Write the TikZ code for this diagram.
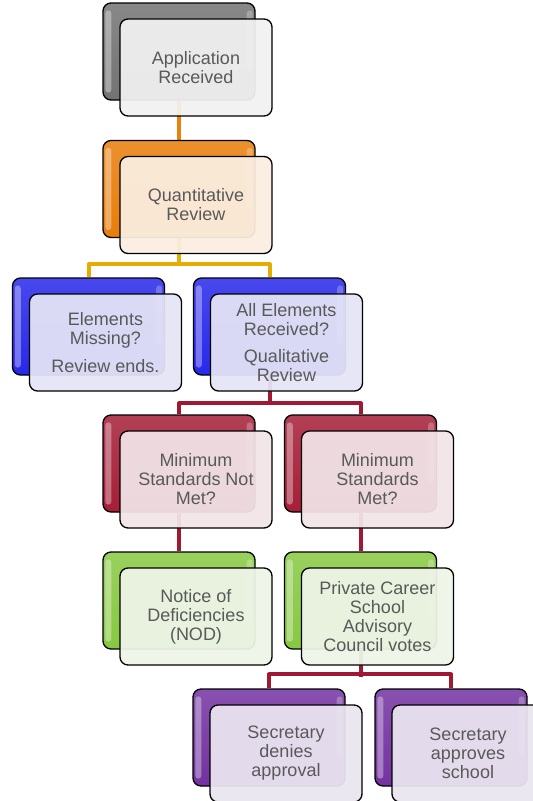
\documentclass[tikz,border=0pt]{standalone}
\usepackage{fontspec}
\setmainfont{Liberation Sans}
\pgfdeclarelayer{bg}
\pgfsetlayers{bg,main}
\definecolor{txt}{RGB}{89,89,89}
\definecolor{grayB}{RGB}{115,115,115}\definecolor{grayF}{RGB}{241,241,241}
\definecolor{oranB}{RGB}{232,125,10}\definecolor{oranF}{RGB}{250,238,224}
\definecolor{blueB}{RGB}{40,40,235}\definecolor{blueF}{RGB}{228,228,246}
\definecolor{crimB}{RGB}{165,30,55}\definecolor{crimF}{RGB}{241,228,231}
\definecolor{grenB}{RGB}{135,200,65}\definecolor{grenF}{RGB}{238,245,232}
\definecolor{purpB}{RGB}{115,50,160}\definecolor{purpF}{RGB}{234,229,240}
\definecolor{connO}{RGB}{232,130,10}
\definecolor{connG}{RGB}{230,172,0}
\definecolor{connC}{RGB}{160,25,50}
\tikzset{
  backbox/.style={draw=black, line width=1.3pt, rounded corners=8pt,
    minimum width=152pt, minimum height=97pt, inner sep=0pt},
  frontbox/.style={draw=black, line width=1.3pt, rounded corners=8pt,
    minimum width=152pt, minimum height=97pt, inner sep=0pt,
    fill=#1, fill opacity=0.94, text opacity=1, text=txt, align=center,
    font=\fontsize{18}{19}\selectfont},
  conn/.style={line width=4pt, draw=#1, line join=round},
}
\newcommand\stage[6]{%
  \node[backbox, top color=#4!85!white, bottom color=#4] (b#1) at (#2,#3) {};
  \fill[white, opacity=.35, rounded corners=3pt] ([xshift=3pt,yshift=-8pt]b#1.north west) rectangle ([xshift=9pt,yshift=8pt]b#1.south west);
  \fill[white, opacity=.25, rounded corners=3pt] ([xshift=-9pt,yshift=-8pt]b#1.north east) rectangle ([xshift=-3pt,yshift=30pt]b#1.south east);
  \node[frontbox=#5] (f#1) at ([xshift=17pt,yshift=-16pt]b#1.center) {#6};
}
\begin{document}
\begin{tikzpicture}[x=1pt,y=-1pt]
\useasboundingbox (0,0) rectangle (533,801);
\clip (0,0) rectangle (533,801);
\stage{1}{179}{51.5}{grayB}{grayF}{Application\\Received}
\stage{2}{179}{189}{oranB}{oranF}{Quantitative\\Review}
\stage{3a}{88.5}{326.5}{blueB}{blueF}{Elements\\Missing?\\[9pt]Review ends.}
\stage{3b}{269.5}{326.5}{blueB}{blueF}{All Elements\\Received?\\[8pt]Qualitative\\Review}
\stage{4a}{179}{463.5}{crimB}{crimF}{Minimum\\Standards Not\\Met?}
\stage{4b}{360.5}{463.5}{crimB}{crimF}{Minimum\\Standards\\Met?}
\stage{5a}{179}{600.5}{grenB}{grenF}{Notice of\\Deficiencies\\(NOD)}
\stage{5b}{360.5}{600.5}{grenB}{grenF}{Private Career\\School\\Advisory\\Council votes}
\stage{6a}{269}{737.5}{purpB}{purpF}{Secretary\\denies\\approval}
\stage{6b}{451}{737.5}{purpB}{purpF}{Secretary\\approves\\school}
\begin{pgfonlayer}{bg}
\draw[conn=connO] (b1.south) -- (b2.north);
\draw[conn=connG] (b2.south) -- ++(0,28);
\draw[conn=connG] (b3a.north) -- ++(0,-13) -| (b3b.north);
\draw[conn=connC] (b3b.south) -- ++(0,29);
\draw[conn=connC] (b4a.north) -- ++(0,-11) -| (b4b.north);
\draw[conn=connC] (b4a.south) -- (b5a.north);
\draw[conn=connC] (b4b.south) -- (b5b.north);
\draw[conn=connC] (b5b.south) -- ++(0,27);
\draw[conn=connC] (b6a.north) -- ++(0,-14) -| (b6b.north);
\end{pgfonlayer}
\end{tikzpicture}
\end{document}
